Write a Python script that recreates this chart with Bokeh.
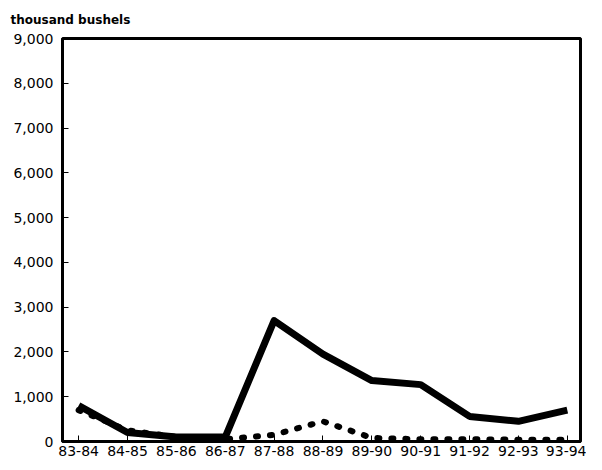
from bokeh.plotting import figure
from bokeh.models import Range1d, FixedTicker, NumeralTickFormatter
from bokeh.embed import file_html
from bokeh.resources import INLINE

seasons = ["83-84", "84-85", "85-86", "86-87", "87-88", "88-89", "89-90", "90-91", "91-92", "92-93", "93-94"]
solid_vals = [800, 200, 100, 100, 2700, 1950, 1360, 1270, 560, 450, 700]
dotted_vals = [700, 250, 100, 50, 150, 450, 80, 50, 50, 40, 40]
y_ticks = [0, 1000, 2000, 3000, 4000, 5000, 6000, 7000, 8000, 9000]

x = list(range(len(seasons)))

p = figure(width=586, height=462, output_backend="svg", toolbar_location=None,
           x_range=Range1d(-0.33, 10.27), y_range=Range1d(0, 9000),
           min_border_left=62, min_border_right=6, min_border_bottom=21, min_border_top=38)

p.title.text = "thousand bushels"
p.title.text_font = "DejaVu Sans"
p.title.text_font_size = "12px"
p.title.text_font_style = "bold"
p.title.text_color = "black"
p.title.align = "left"
p.title.vertical_align = "top"
p.title.offset = -52
p.title.standoff = 20

p.line(x, solid_vals, line_color="black", line_width=7, line_join="round")
p.line(x, dotted_vals, line_color="black", line_width=6, line_dash="2 12", line_cap="round")

p.xgrid.visible = False
p.ygrid.visible = False
p.outline_line_color = "black"
p.outline_line_width = 3

for ax in (p.xaxis, p.yaxis):
    ax.axis_line_color = "black"
    ax.axis_line_width = 3
    ax.major_tick_in = 6
    ax.major_tick_out = 0
    ax.minor_tick_line_color = None
    ax.major_tick_line_color = "black"
    ax.major_label_text_font = "DejaVu Sans"
    ax.major_label_text_font_size = "14px"
    ax.major_label_text_color = "black"

p.xaxis.ticker = FixedTicker(ticks=x)
p.xaxis.major_label_overrides = {i: s for i, s in enumerate(seasons)}
p.yaxis.ticker = FixedTicker(ticks=y_ticks)
p.yaxis.formatter = NumeralTickFormatter(format="0,0")
p.yaxis.major_label_standoff = 9
p.xaxis.major_label_standoff = 4

open("out.html", "w").write(file_html(p, INLINE))
